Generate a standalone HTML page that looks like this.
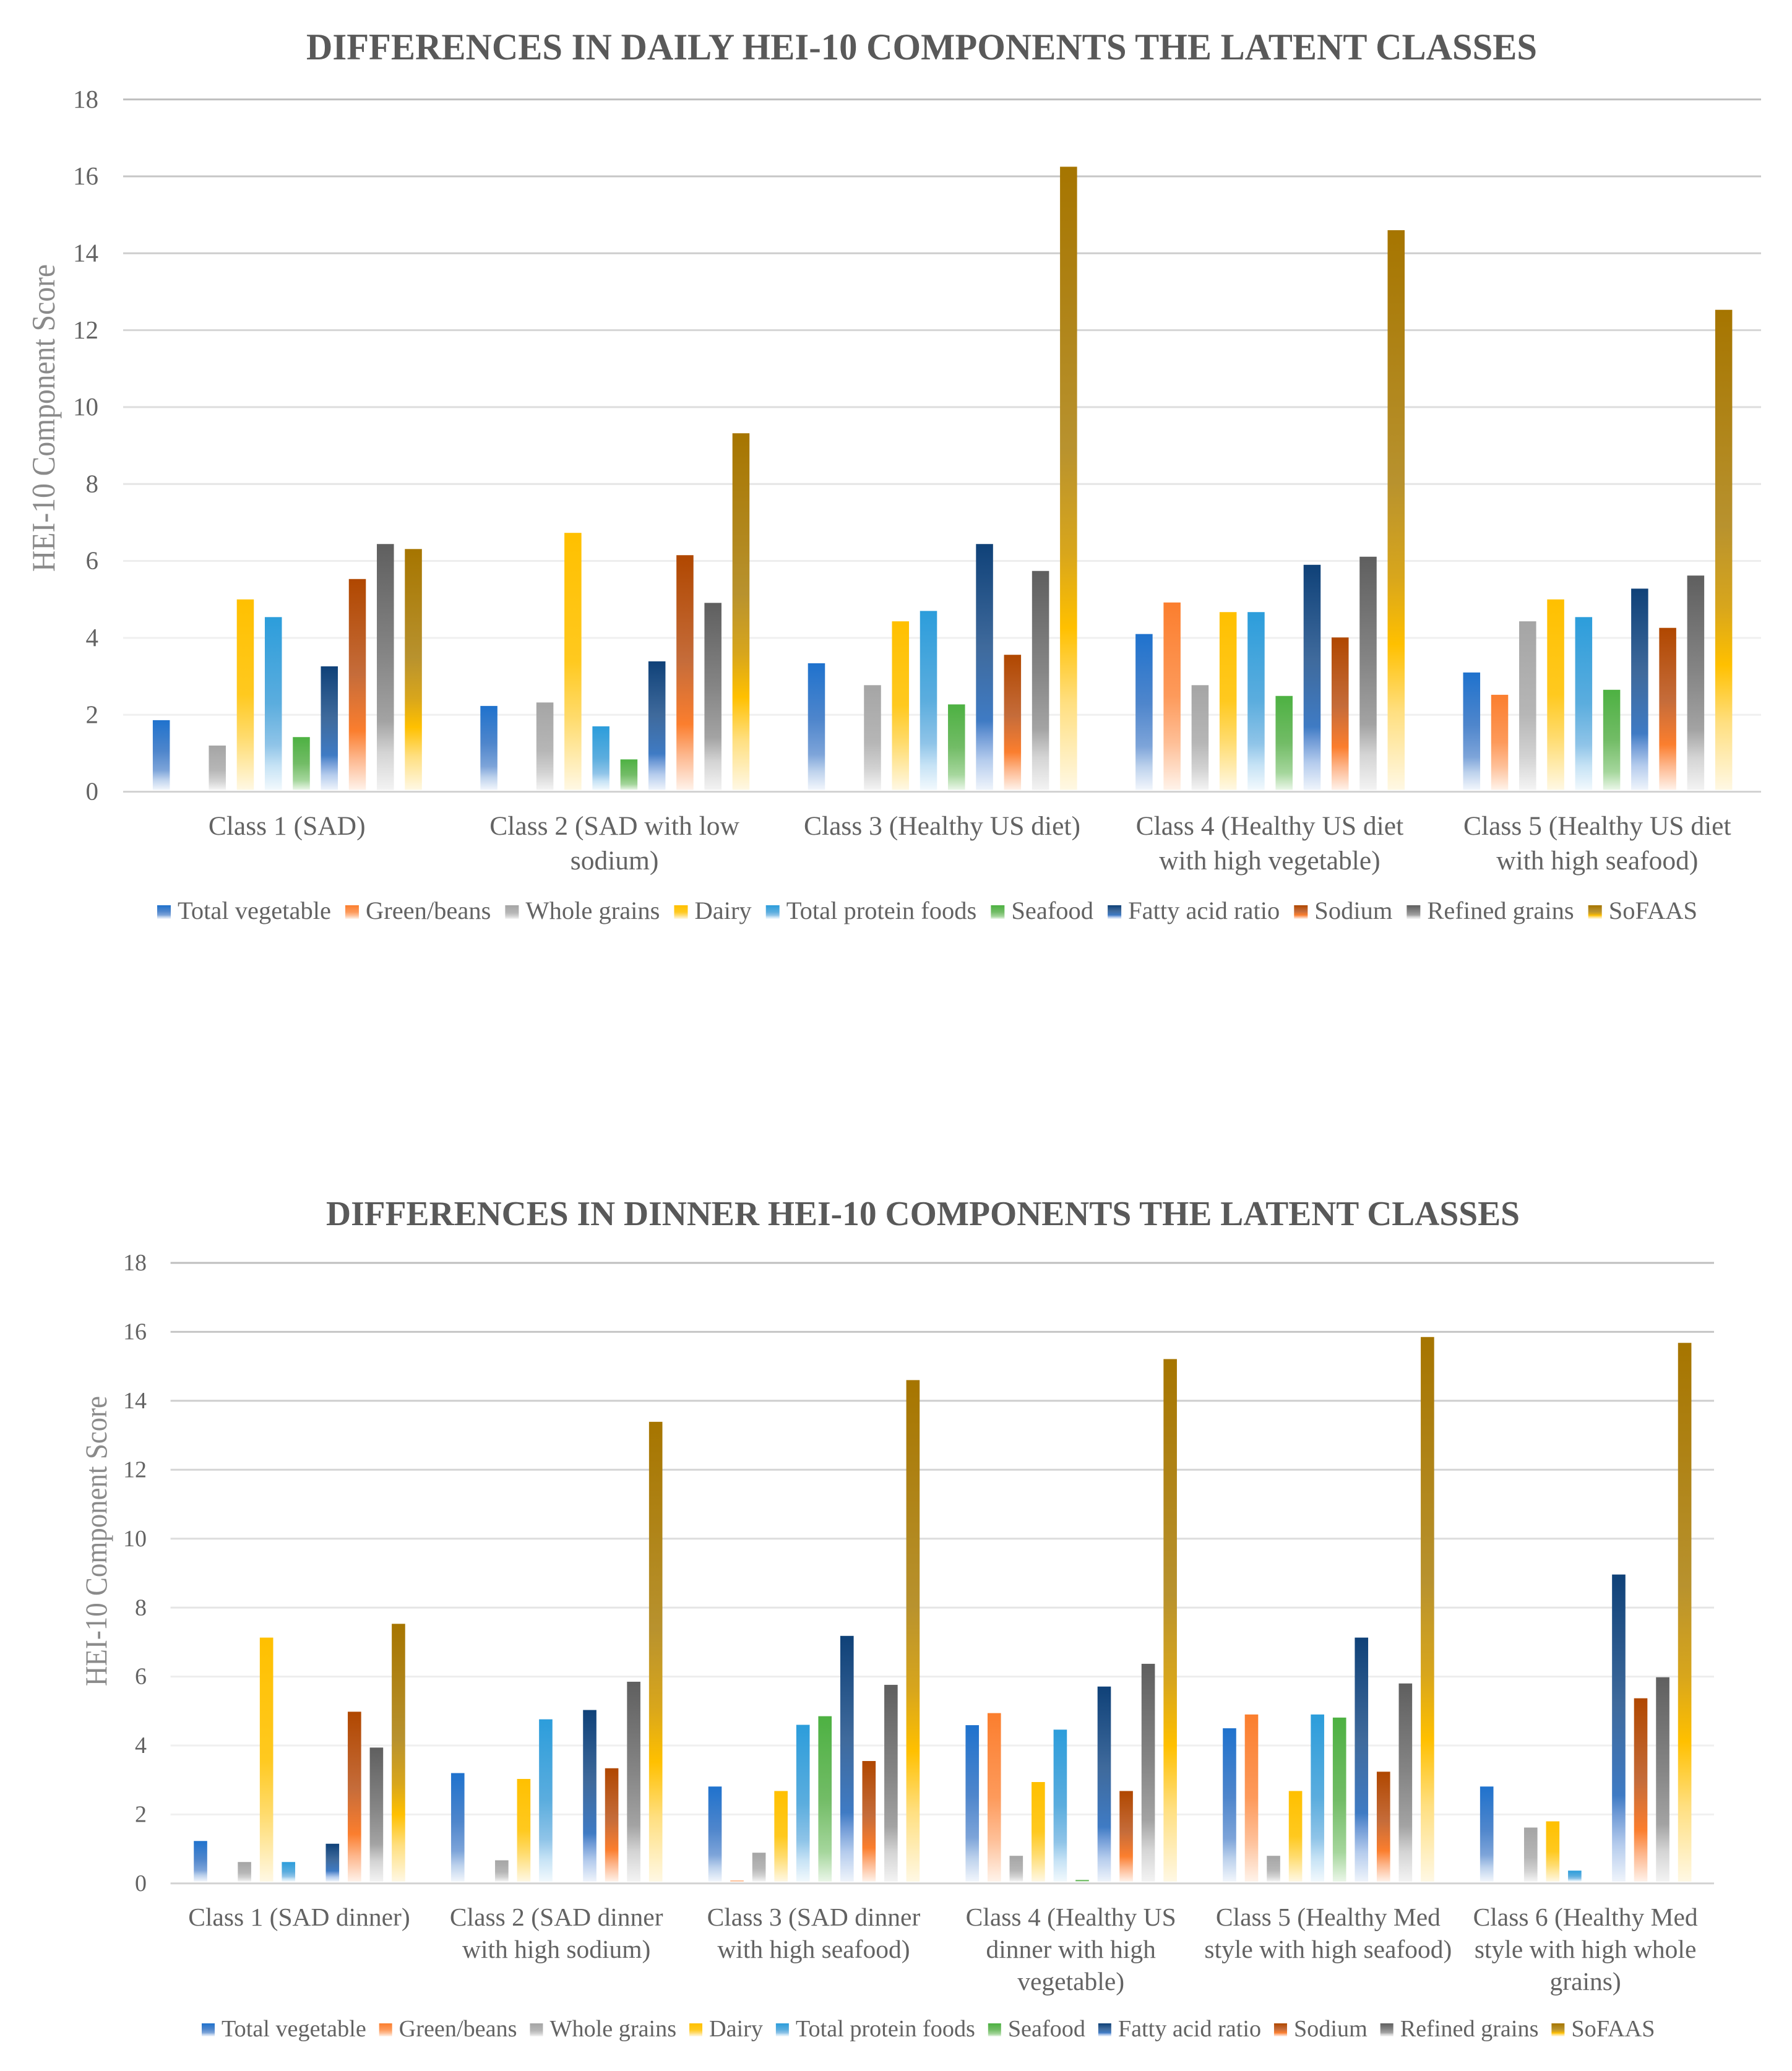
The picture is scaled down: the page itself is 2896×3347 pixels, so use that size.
<!DOCTYPE html>
<html lang="en">
<head>
<meta charset="utf-8">
<title>Differences in HEI-10 components across latent classes</title>
<style>
html,body{margin:0;padding:0;background:#fff;width:2896px;height:3347px;overflow:hidden}
svg{display:block}
text{font-family:"Liberation Serif",serif;fill:#636363}
</style>
</head>
<body>
<svg id="page" xmlns="http://www.w3.org/2000/svg" width="2896" height="3347" viewBox="0 0 2896 3347">
<rect width="2896" height="3347" fill="#fff"/>
<defs id="defs"></defs>
<g id="chart-daily">
<text x="495" y="96" font-size="60" font-weight="bold" textLength="1989" lengthAdjust="spacingAndGlyphs" style="fill:#595959">DIFFERENCES IN DAILY HEI-10 COMPONENTS THE LATENT CLASSES</text>
<text transform="translate(88 924) rotate(-90)" font-size="53" textLength="497" lengthAdjust="spacingAndGlyphs" style="fill:#8a8a8a">HEI-10 Component Score</text>
</g>
<g id="chart-dinner">
<text x="527" y="1980" font-size="56" font-weight="bold" textLength="1929" lengthAdjust="spacingAndGlyphs" style="fill:#595959">DIFFERENCES IN DINNER HEI-10 COMPONENTS THE LATENT CLASSES</text>
<text transform="translate(172 2725) rotate(-90)" font-size="50" textLength="469" lengthAdjust="spacingAndGlyphs" style="fill:#8a8a8a">HEI-10 Component Score</text>
</g>
</svg>
<script>
// ---------- shared data ----------
const seriesNames = ["Total vegetable","Green/beans","Whole grains","Dairy","Total protein foods","Seafood","Fatty acid ratio","Sodium","Refined grains","SoFAAS"];
const yTicks = [0,2,4,6,8,10,12,14,16,18];

// ---------- daily chart data (one value per latent class) ----------
const dailyClasses = [
  ["Class 1 (SAD)"],
  ["Class 2 (SAD with low","sodium)"],
  ["Class 3 (Healthy US diet)"],
  ["Class 4 (Healthy US diet","with high vegetable)"],
  ["Class 5 (Healthy US diet","with high seafood)"]
];
const dailyTotalVegetable = [1.86,2.23,3.34,4.10,3.10];
const dailyGreenBeans     = [0,0,0,4.92,2.52];
const dailyWholeGrains    = [1.20,2.32,2.77,2.77,4.43];
const dailyDairy          = [5.00,6.73,4.43,4.67,5.00];
const dailyProtein        = [4.54,1.70,4.70,4.67,4.54];
const dailySeafood        = [1.42,0.84,2.27,2.49,2.65];
const dailyFattyAcid      = [3.26,3.39,6.44,5.90,5.28];
const dailySodium         = [5.53,6.15,3.56,4.01,4.26];
const dailyRefinedGrains  = [6.44,4.91,5.74,6.11,5.62];
const dailySoFAAS         = [6.31,9.32,16.25,14.60,12.53];

// ---------- dinner chart data ----------
const dinnerClasses = [
  ["Class 1 (SAD dinner)"],
  ["Class 2 (SAD dinner","with high sodium)"],
  ["Class 3 (SAD dinner","with high seafood)"],
  ["Class 4 (Healthy US","dinner with high","vegetable)"],
  ["Class 5 (Healthy Med","style with high seafood)"],
  ["Class 6 (Healthy Med","style with high whole","grains)"]
];
const dinnerTotalVegetable = [1.23,3.20,2.81,4.59,4.50,2.81];
const dinnerGreenBeans     = [0,0,0.08,4.94,4.90,0];
const dinnerWholeGrains    = [0.62,0.67,0.89,0.80,0.80,1.62];
const dinnerDairy          = [7.13,3.03,2.68,2.94,2.68,1.80];
const dinnerProtein        = [0.62,4.76,4.60,4.46,4.90,0.37];
const dinnerSeafood        = [0,0,4.85,0.10,4.81,0];
const dinnerFattyAcid      = [1.15,5.03,7.18,5.71,7.13,8.96];
const dinnerSodium         = [4.98,3.34,3.55,2.68,3.24,5.37];
const dinnerRefinedGrains  = [3.94,5.85,5.76,6.37,5.80,5.98];
const dinnerSoFAAS         = [7.53,13.39,14.60,15.21,15.85,15.68];

const dailySeries = [dailyTotalVegetable,dailyGreenBeans,dailyWholeGrains,dailyDairy,dailyProtein,dailySeafood,dailyFattyAcid,dailySodium,dailyRefinedGrains,dailySoFAAS];
const dinnerSeries = [dinnerTotalVegetable,dinnerGreenBeans,dinnerWholeGrains,dinnerDairy,dinnerProtein,dinnerSeafood,dinnerFattyAcid,dinnerSodium,dinnerRefinedGrains,dinnerSoFAAS];

// ---------- series gradient styling ----------
const NS = "http://www.w3.org/2000/svg";
const seriesGradients = [
  [[0,"#1f72cd"],[.45,"#4f86cc"],[.72,"#7da4d9"],[.85,"#bcd1ec"],[1,"#f2f6fc"]],
  [[0,"#fb7e2e"],[.5,"#fd9a5b"],[.75,"#febf97"],[1,"#fff3ea"]],
  [[0,"#a5a5a5"],[.55,"#b6b6b6"],[.8,"#d2d2d2"],[1,"#f4f4f4"]],
  [[0,"#ffc000"],[.5,"#ffc91f"],[.72,"#ffdb6c"],[1,"#fff8e4"]],
  [[0,"#2c9ddb"],[.5,"#5badde"],[.74,"#8fc4e8"],[.86,"#c5e2f5"],[1,"#f2f9fd"]],
  [[0,"#4db142"],[.5,"#72bc66"],[.82,"#a5d69c"],[1,"#eaf6e8"]],
  [[0,"#0f4178"],[.42,"#3f6a9c"],[.72,"#3f7bc4"],[.78,"#6f9ad6"],[.88,"#b5cced"],[1,"#eff4fb"]],
  [[0,"#b04700"],[.45,"#c56c3a"],[.72,"#fb7e2e"],[.85,"#fdb68c"],[1,"#fff2ea"]],
  [[0,"#5f5f5f"],[.45,"#858585"],[.72,"#a3a3a3"],[.85,"#d4d4d4"],[1,"#f3f3f3"]],
  [[0,"#a67500"],[.45,"#b8922e"],[.62,"#d8a61c"],[.74,"#ffc000"],[.86,"#ffdf80"],[1,"#fff8e4"]]
];
const defs = document.getElementById("defs");
seriesGradients.forEach(function(stops,i){
  const g = document.createElementNS(NS,"linearGradient");
  g.setAttribute("id","grad"+i);
  g.setAttribute("x1","0");g.setAttribute("y1","0");g.setAttribute("x2","0");g.setAttribute("y2","1");
  stops.forEach(function(s){
    const st = document.createElementNS(NS,"stop");
    st.setAttribute("offset",s[0]);
    st.setAttribute("stop-color",s[1]);
    g.appendChild(st);
  });
  defs.appendChild(g);
});

function gridColor(v){
  if(v===0) return "#d2d2d2";
  const c = Math.round(Math.min(240,190+(18-v)*3.9));
  return "rgb("+c+","+c+","+c+")";
}

function drawChart(rootId,prefix,classes,series,opt){
  const root = document.getElementById(rootId);
  const yAxis = function(v){return opt.y0-(opt.y0-opt.y18)*v/18;};
  const catW = (opt.right-opt.left)/classes.length;
  const barW = catW*0.052, pitch = catW*0.0855, pad = catW*0.0905;
  const xAxis = function(c,s){return opt.left+catW*c+pad+pitch*s;};

  yTicks.forEach(function(v){
    const line = document.createElementNS(NS,"rect");
    
    
    line.setAttribute("x",opt.left);
    line.setAttribute("y",yAxis(v)-1.5);
    line.setAttribute("width",opt.right-opt.left);
    line.setAttribute("height",3);
    line.setAttribute("fill",gridColor(v));
    root.appendChild(line);
    const t = document.createElementNS(NS,"text");
    
    
    t.setAttribute("x",opt.tickRight);
    t.setAttribute("y",yAxis(v)+opt.tickFs*0.32);
    t.setAttribute("font-size",opt.tickFs);
    t.setAttribute("text-anchor","end");
    t.textContent = v;
    root.appendChild(t);
  });

  series.forEach(function(vals,s){
    vals.forEach(function(v,c){
      if(v<=0) return;
      const bar = document.createElementNS(NS,"rect");
      
      
      bar.setAttribute("x",xAxis(c,s));
      bar.setAttribute("y",yAxis(v));
      bar.setAttribute("width",barW);
      bar.setAttribute("height",yAxis(0)-yAxis(v)-3);
      bar.setAttribute("fill","url(#grad"+s+")");
      root.appendChild(bar);
    });
  });

  classes.forEach(function(lines,c){
    lines.forEach(function(txt,l){
      const t = document.createElementNS(NS,"text");
      
      
      t.setAttribute("x",opt.left+catW*(c+0.5));
      t.setAttribute("y",opt.catY+opt.catLead*l);
      t.setAttribute("font-size",opt.catFs);
      t.setAttribute("text-anchor","middle");
      t.textContent = txt;
      root.appendChild(t);
    });
  });

  // Legend: swatch + label, spread evenly between its start and end
  const labels = seriesNames.map(function(name){
    const t = document.createElementNS(NS,"text");
    
    
    t.setAttribute("font-size",opt.legFs);
    t.setAttribute("y",opt.legY);
    t.textContent = name;
    root.appendChild(t);
    return t;
  });
  const widths = labels.map(function(t){return t.getComputedTextLength();});
  const used = widths.reduce(function(a,b){return a+b;},0)+seriesNames.length*(opt.swatch+opt.swGap);
  const between = (opt.legEnd-opt.legStart-used)/(seriesNames.length-1);
  let lx = opt.legStart;
  labels.forEach(function(t,i){
    const sw = document.createElementNS(NS,"rect");
    
    
    sw.setAttribute("x",lx);
    sw.setAttribute("y",opt.legY-opt.swatch);
    sw.setAttribute("width",opt.swatch);
    sw.setAttribute("height",opt.swatch);
    sw.setAttribute("fill","url(#grad"+i+")");
    root.appendChild(sw);
    t.setAttribute("x",lx+opt.swatch+opt.swGap);
    lx += opt.swatch+opt.swGap+widths[i]+between;
  });
}

drawChart("chart-daily","daily",dailyClasses,dailySeries,{
  left:199,right:2846,y0:1279.5,y18:160.7,tickRight:159,tickFs:41,
  catY:1349,catLead:56,catFs:43.5,legY:1485,legFs:40.5,swatch:22,swGap:11,legStart:254,legEnd:2743
});
drawChart("chart-dinner","dinner",dinnerClasses,dinnerSeries,{
  left:275.6,right:2770,y0:3043.8,y18:2041,tickRight:237,tickFs:38,
  catY:3112,catLead:52,catFs:41.5,legY:3291,legFs:38.2,swatch:21,swGap:11,legStart:326,legEnd:2674.5
});
</script>
</body>
</html>
